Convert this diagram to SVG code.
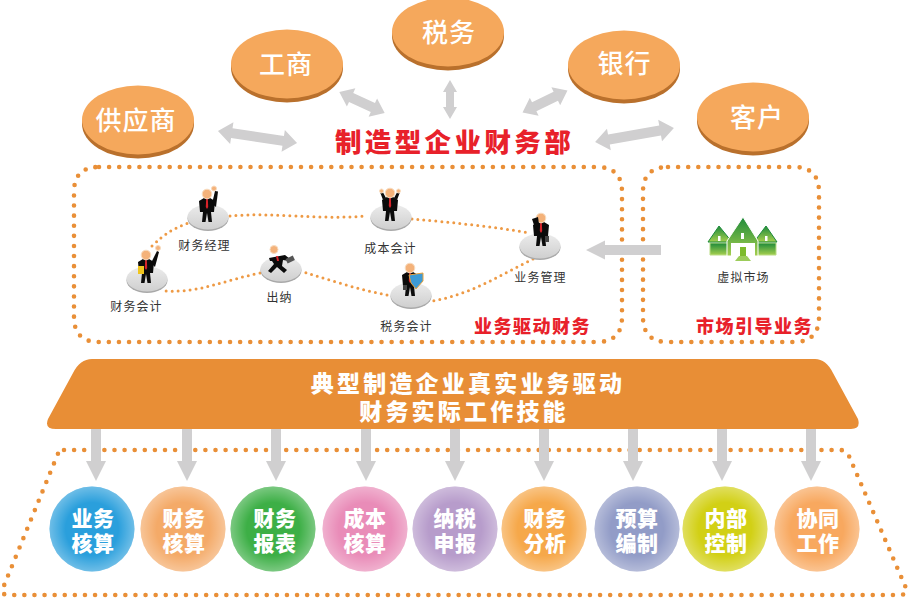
<svg xmlns="http://www.w3.org/2000/svg" width="909" height="598" viewBox="0 0 909 598">
<style>
text{font-family:"Noto Sans CJK SC","Noto Sans",sans-serif;text-anchor:middle}
.top{font-size:26px;fill:#fff;font-weight:500;letter-spacing:1px}
.small{font-size:12px;fill:#333;letter-spacing:1.100px}
.red{fill:#e8212a;font-weight:900}
.banner{font-size:23px;fill:#fff;font-weight:900;letter-spacing:3.200px}
.ball{font-size:21px;fill:#fff;font-weight:900;letter-spacing:.5px}
.dots{fill:none;stroke:#e98f37;stroke-width:4.600;stroke-linecap:round;stroke-dasharray:0 10.100}
.fine{fill:none;stroke:#ee9a45;stroke-width:3;stroke-linecap:round;stroke-dasharray:0 6}
.arr{fill:#d0cfd0}
.suit{fill:#0b0b0b}
.skin{fill:#f4b27a;stroke:#f8dcc0;stroke-width:1}
.tie{fill:#d8232a}
</style>
<defs>
<linearGradient id="disc" x1="0" y1="0" x2="0" y2="1"><stop offset="0" stop-color="#ececec"/><stop offset="1" stop-color="#cfcfcf"/></linearGradient>
<radialGradient id="sheen" cx="0.5" cy="0.5" r="0.5"><stop offset="0.62" stop-color="#fff" stop-opacity="0"/><stop offset="1" stop-color="#fff" stop-opacity="0.32"/></radialGradient>
<linearGradient id="house" x1="0" y1="0" x2="0" y2="1"><stop offset="0" stop-color="#1d8a3a"/><stop offset="1" stop-color="#a5cf4e"/></linearGradient>
<g id="plate">
<ellipse cx="0" cy="1.500" rx="20.500" ry="12.500" fill="#a9a9a9"/>
<ellipse cx="0" cy="0" rx="20.500" ry="12.500" fill="url(#disc)"/>
</g>
<g id="ellipseTop">
<ellipse cx="0" cy="4" rx="56" ry="34.500" fill="#b9702c"/>
<ellipse cx="0" cy="0" rx="56" ry="34.500" fill="#f5a85c"/>
</g>
<g id="man">
<path class="suit" d="M-8 -14 L-3 -17 L3 -17 L8 -14 L7 -3 L4 -3 L5 7 L1.500 7 L0 -2 L-1.500 7 L-5 7 L-4 -3 L-7 -3Z"/>
<path class="tie" d="M-0.800 -17 L0.800 -17 L1.200 -8 L0 -6 L-1.200 -8Z"/>
<circle class="skin" cx="0" cy="-21" r="4.800"/>
</g>
</defs>

<g id="connectors">
<path class="dots" d="M99 167H597Q622 167 622 192V317Q622 342 597 342H99Q74 342 74 317V192Q74 167 99 167Z"/>
<path class="dots" d="M668 167H794Q819 167 819 192V317Q819 342 794 342H668Q643 342 643 317V192Q643 167 668 167Z"/>
<path class="dots" d="M64 450H840Q846 450 849 456L906 588Q908 594 901 595H8Q1 595 3 588L57 456Q59 450 64 450Z"/>
<path class="fine" d="M152 246C165 233 175 228 188 223"/>
<path class="fine" d="M230 216C270 212 320 220 366 216"/>
<path class="fine" d="M412 219C450 222 495 227 530 233"/>
<path class="fine" d="M533 259C500 275 470 295 432 301"/>
<path class="fine" d="M387 295C360 290 330 280 303 272"/>
<path class="fine" d="M260 273C225 280 200 293 165 291"/>
<g class="arr">
<polygon transform="translate(257.500 137) rotate(8.600)" points="-40,0 -26,-11 -26,-5 26,-5 26,-11 40,0 26,11 26,5 -26,5 -26,11"/>
<polygon transform="translate(362 102.500) rotate(25)" points="-25,0 -12,-10 -12,-5 12,-5 12,-10 25,0 12,10 12,5 -12,5 -12,10"/>
<polygon points="450,80 457,92 454,92 454,107 457,107 450,119 443,107 446,107 446,92 443,92"/>
<polygon transform="translate(545 101.500) rotate(-26)" points="-25,0 -12,-10 -12,-5 12,-5 12,-10 25,0 12,10 12,5 -12,5 -12,10"/>
<polygon transform="translate(634.500 135) rotate(-10)" points="-40,0 -26,-11 -26,-5 26,-5 26,-11 40,0 26,11 26,5 -26,5 -26,11"/>
<polygon points="586,250 605,240.500 605,245 661,245 661,255 605,255 605,259.500"/>
<polygon points="91,429 101,429 101,461 106,461 96,481 86,461 91,461"/>
<polygon points="182,429 192,429 192,461 197,461 187,481 177,461 182,461"/>
<polygon points="271,429 281,429 281,461 286,461 276,481 266,461 271,461"/>
<polygon points="361,429 371,429 371,461 376,461 366,481 356,461 361,461"/>
<polygon points="450,429 460,429 460,461 465,461 455,481 445,461 450,461"/>
<polygon points="539,429 549,429 549,461 554,461 544,481 534,461 539,461"/>
<polygon points="628,429 638,429 638,461 643,461 633,481 623,461 628,461"/>
<polygon points="717,429 727,429 727,461 732,461 722,481 712,461 717,461"/>
<polygon points="806,429 816,429 816,461 821,461 811,481 801,461 806,461"/>
</g>
</g>

<g id="n-gys"><use href="#ellipseTop" x="138" y="120"/><text class="top" x="136" y="130">供应商</text></g>
<g id="n-gs"><use href="#ellipseTop" x="287" y="64"/><text class="top" x="286" y="74">工商</text></g>
<g id="n-sw"><use href="#ellipseTop" x="448" y="32"/><text class="top" x="449" y="42">税务</text></g>
<g id="n-yh"><use href="#ellipseTop" x="624" y="65"/><text class="top" x="624.500" y="73">银行</text></g>
<g id="n-kh"><use href="#ellipseTop" x="753" y="117"/><text class="top" x="757" y="127">客户</text></g>
<g id="title"><text class="red" x="454.500" y="152" font-size="26.500" letter-spacing="3.400">制造型企业财务部</text></g>

<g id="n-kjing">
<use href="#plate" x="208" y="217"/>
<use href="#man" x="207" y="215"/>
<path class="suit" d="M212 204L215 191L218 191.500L216 207Z"/>
<circle class="skin" cx="214" cy="188.500" r="2.500"/>
<text class="small" x="204.500" y="250">财务经理</text>
</g>
<g id="n-kj">
<use href="#plate" x="147" y="279"/>
<use href="#man" x="146" y="276"/>
<path class="suit" d="M151 263L157 251L159 252L155 267Z"/>
<circle class="skin" cx="158" cy="248" r="2.500"/>
<rect x="138" y="266" width="6" height="8" fill="#f0c51e"/>
<text class="small" x="136.500" y="311">财务会计</text>
</g>
<g id="n-cn">
<use href="#plate" x="281" y="269"/>
<circle class="skin" cx="274" cy="249.500" r="4"/>
<path class="suit" d="M269 258L285 255L290 259L289 261L283 260L282 266L287 270L284 273L277 267L271 273L268 271L274 264L272 261L270 261Z"/>
<path class="tie" d="M276 256L278 256L279 261L277 261Z"/>
<rect x="286" y="257" width="8" height="5" fill="#555" transform="rotate(-25 290 259)"/>
<text class="small" x="279.500" y="302">出纳</text>
</g>
<g id="n-cb">
<use href="#plate" x="391" y="217"/>
<use href="#man" x="390" y="214"/>
<path class="suit" d="M383 200L380 192L382.500 191.500L386 198Z M397 200L400 192L397.500 191.500L394 198Z"/>
<circle class="skin" cx="381.500" cy="191" r="2"/><circle class="skin" cx="398.500" cy="191" r="2"/>
<text class="small" x="390.500" y="253">成本会计</text>
</g>
<g id="n-sk">
<use href="#plate" x="411" y="295"/>
<use href="#man" x="410" y="289"/>
<path d="M409 275L423 273L423 281L416 289L411 283Z" fill="#3d9bd6" stroke="#e9a23d" stroke-width="1"/>
<rect x="403" y="285" width="4" height="5" fill="#444"/>
<text class="small" x="406.500" y="331">税务会计</text>
</g>
<g id="n-yw">
<use href="#plate" x="540" y="246"/>
<use href="#man" x="541" y="239"/>
<path class="suit" d="M535 228L532 219L538 217L539 224Z"/>
<rect x="545" y="236" width="4" height="6" fill="#444"/>
<text class="small" x="540.500" y="282">业务管理</text>
</g>
<g id="n-sc">
<path d="M710 243V255H776V243Z" fill="url(#house)" stroke="#b9dc84" stroke-width="1"/>
<path d="M708 242L719 226L732 242Z" fill="url(#house)" stroke="#1d8a3a" stroke-width="1"/>
<path d="M754 242L766 226L777 242Z" fill="url(#house)" stroke="#1d8a3a" stroke-width="1"/>
<path d="M727 241L743 217L758 241V256H727Z" fill="url(#house)" stroke="#fff" stroke-width="1"/>
<rect x="731" y="243" width="24" height="18" fill="#fff"/>
<rect x="740" y="247" width="6" height="9" fill="#7dbb2c"/>
<path d="M735 261L739 256H747L751 261Z" fill="#9ccc5a"/>
<rect x="741" y="233" width="3" height="6" fill="#fff"/><rect x="718" y="236" width="2.500" height="5" fill="#fff"/><rect x="765" y="236" width="2.500" height="5" fill="#fff"/>
<text class="small" x="743.500" y="282">虚拟市场</text>
</g>
<g id="lab-a"><text class="red" x="532.500" y="333" font-size="18" letter-spacing="1.500">业务驱动财务</text></g>
<g id="lab-b"><text class="red" x="754.500" y="333" font-size="18" letter-spacing="1.500">市场引导业务</text></g>

<g id="banner">
<path d="M92 359H815Q826 359 833 373L858 419Q861 429 851 429H56Q44 429 48 419L73 373Q80 359 92 359Z" fill="#e88e36"/>
<text class="banner" x="468" y="392">典型制造企业真实业务驱动</text>
<text class="banner" x="464" y="420">财务实际工作技能</text>
</g>

<g id="b1"><circle cx="92" cy="529" r="42.500" fill="#2a9fdc"/><circle cx="92" cy="529" r="42.500" fill="url(#sheen)"/><text class="ball" x="93" y="526">业务</text><text class="ball" x="93" y="551">核算</text></g>
<g id="b2"><circle cx="183" cy="529" r="42.500" fill="#f4aa68"/><circle cx="183" cy="529" r="42.500" fill="url(#sheen)"/><text class="ball" x="184" y="526">财务</text><text class="ball" x="184" y="551">核算</text></g>
<g id="b3"><circle cx="273" cy="529" r="42.500" fill="#3daf46"/><circle cx="273" cy="529" r="42.500" fill="url(#sheen)"/><text class="ball" x="275" y="526">财务</text><text class="ball" x="275" y="551">报表</text></g>
<g id="b4"><circle cx="365" cy="529" r="42.500" fill="#e98cb8"/><circle cx="365" cy="529" r="42.500" fill="url(#sheen)"/><text class="ball" x="365" y="526">成本</text><text class="ball" x="365" y="551">核算</text></g>
<g id="b5"><circle cx="455" cy="529" r="42.500" fill="#b79ccb"/><circle cx="455" cy="529" r="42.500" fill="url(#sheen)"/><text class="ball" x="455" y="526">纳税</text><text class="ball" x="455" y="551">申报</text></g>
<g id="b6"><circle cx="544" cy="529" r="42.500" fill="#f6a84a"/><circle cx="544" cy="529" r="42.500" fill="url(#sheen)"/><text class="ball" x="545" y="526">财务</text><text class="ball" x="545" y="551">分析</text></g>
<g id="b7"><circle cx="637" cy="529" r="42.500" fill="#929cc7"/><circle cx="637" cy="529" r="42.500" fill="url(#sheen)"/><text class="ball" x="637" y="526">预算</text><text class="ball" x="637" y="551">编制</text></g>
<g id="b8"><circle cx="725" cy="529" r="42.500" fill="#d2d015"/><circle cx="725" cy="529" r="42.500" fill="url(#sheen)"/><text class="ball" x="726" y="526">内部</text><text class="ball" x="726" y="551">控制</text></g>
<g id="b9"><circle cx="817" cy="529" r="42.500" fill="#f8a85f"/><circle cx="817" cy="529" r="42.500" fill="url(#sheen)"/><text class="ball" x="818" y="526">协同</text><text class="ball" x="818" y="551">工作</text></g>
</svg>
